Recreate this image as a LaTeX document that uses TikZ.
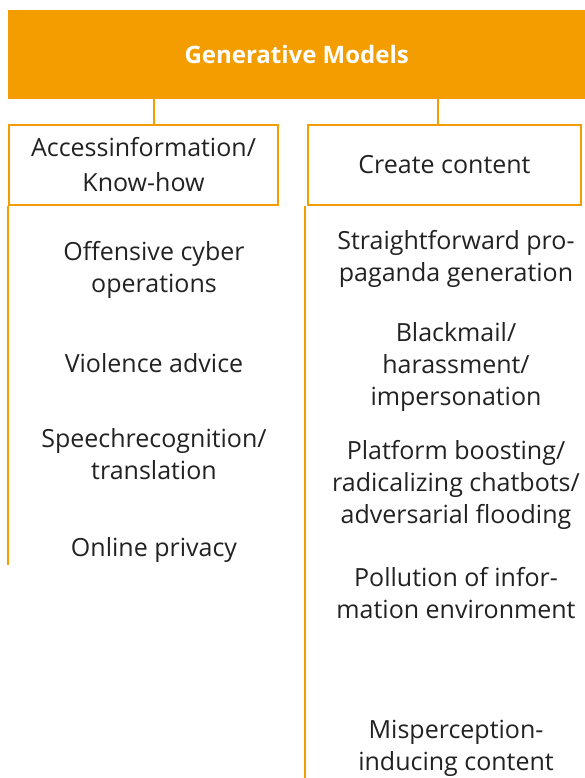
\documentclass[tikz,border=0pt]{standalone}
\usepackage{fontspec}
\setmainfont{Open Sans}
\usepackage{xcolor}
\usetikzlibrary{positioning,calc}
\definecolor{gmorange}{RGB}{243,157,0}
\definecolor{gmtext}{RGB}{34,34,34}

\begin{document}
\begin{tikzpicture}[
    x=1pt, y=-1pt,
    box/.style={draw=gmorange, line width=2.5pt, minimum height=80pt, inner sep=0pt, align=center, text=gmtext, font=\fontsize{25}{35}\selectfont},
    item/.style={inner sep=0pt, align=center, text=gmtext, font=\fontsize{25}{32}\selectfont},
    link/.style={draw=gmorange, line width=2.5pt}
]
\useasboundingbox (0,0) rectangle (585,778);

% Header
\node[fill=gmorange, anchor=north west, minimum width=577pt, minimum height=89pt, inner sep=0pt, text=white, font=\bfseries\fontsize{24}{28}\selectfont] (gen) at (8,10) {Generative Models};

% Two categories
\node[box, minimum width=269pt] (access) at (143.5,165) {Accessinformation/\\Know-how};
\node[box, minimum width=273pt] (create) at (444.5,165) {Create content};

% Header links
\coordinate (acctop) at ([xshift=10.5pt]access.north);
\coordinate (cretop) at ([xshift=-6.5pt]create.north);
\draw[link] (acctop) -- (acctop |- gen.south);
\draw[link] (cretop) -- (cretop |- gen.south);

% Column lines
\coordinate (accend) at (9,565);
\coordinate (creend) at (306,778);
\draw[link] (access.south west) -- (access.south west |- accend);
\draw[link] ([xshift=-2pt]create.south west) -- ([xshift=-2pt]create.south west |- creend);

% Access information items
\node[item] (cyber) at (154,270) {Offensive cyber\\operations};
\node[item] (violence) at (154,363) {Violence advice};
\node[item] (speech) at (154,454) {Speechrecognition/\\translation};
\node[item] (privacy) at (154,550) {Online privacy};

% Create content items
\node[item] (propa) at (456,259) {Straightforward pro-\\paganda generation};
\node[item] (black) at (456,367) {Blackmail/\\harassment/\\impersonation};
\node[item] (boost) at (456,485) {Platform boosting/\\radicalizing chatbots/\\adversarial flooding};
\node[item] (pollu) at (456,593) {Pollution of infor-\\mation environment};
\node[item] (misper) at (456,748) {Misperception-\\inducing content};

\end{tikzpicture}
\end{document}
